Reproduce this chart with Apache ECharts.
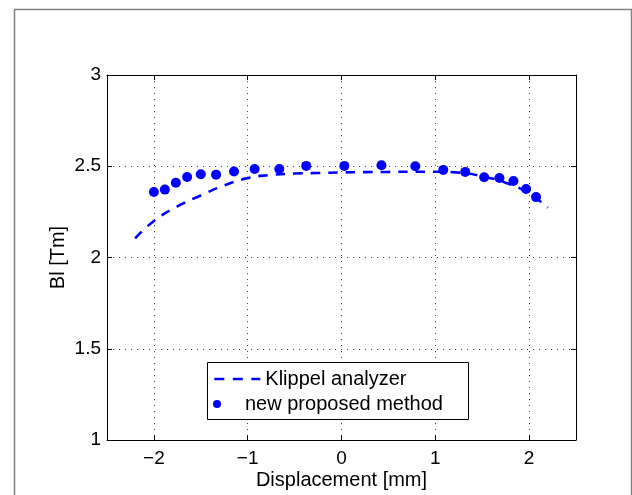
<!DOCTYPE html>
<html>
<head>
<meta charset="utf-8">
<script src="https://cdn.jsdelivr.net/npm/echarts@6/dist/echarts.min.js"></script>
<style>
html,body{margin:0;padding:0;background:#fff;}
#chart{width:632px;height:495px;}
</style>
</head>
<body>
<div id="chart"></div>
<script>
// Klippel analyzer curve (dashed)
var klippelX = [-2.2, -2.0, -1.75, -1.5, -1.25, -1.0, -0.75, -0.5, -0.25, 0, 0.25, 0.5, 0.75, 1.0, 1.25, 1.5, 1.75, 2.0, 2.2];
var klippelY = [2.105, 2.20, 2.28, 2.34, 2.395, 2.435, 2.452, 2.46, 2.463, 2.466, 2.468, 2.469, 2.47, 2.47, 2.465, 2.445, 2.41, 2.35, 2.273];
// New proposed method (dots)
var methodX = [-2.0, -1.883, -1.766, -1.646, -1.5, -1.337, -1.146, -0.926, -0.663, -0.376, 0.03, 0.426, 0.787, 1.085, 1.319, 1.521, 1.684, 1.833, 1.968, 2.074];
var methodY = [2.359, 2.372, 2.41, 2.441, 2.456, 2.454, 2.471, 2.485, 2.485, 2.502, 2.502, 2.505, 2.5, 2.48, 2.469, 2.44, 2.436, 2.419, 2.375, 2.331];
var seriesNames = ['Klippel analyzer', 'new proposed method'];
var xName = 'Displacement [mm]';
var yName = 'Bl [Tm]';

var FONT = 'Liberation Sans, Arial, Helvetica, sans-serif';
var BLUE = '#0000ff';

function pairs(xs, ys) { return xs.map(function (x, i) { return [x, ys[i]]; }); }

var chart = echarts.init(document.getElementById('chart'), null, {renderer: 'canvas'});
var gridLine = {show: true, lineStyle: {color: '#444', width: 1, type: [1, 5]}};
var legendText = {fontFamily: FONT, fontSize: 20, color: '#000', lineHeight: 20};
var option = {
  animation: false,
  backgroundColor: '#fff',
  graphic: [{
    type: 'rect', left: 12, top: 7, z: -10, silent: true,
    shape: {width: 617, height: 500},
    style: {fill: 'none', stroke: '#808080', lineWidth: 1.5}
  }, {
    type: 'rect', left: 207, top: 362, z: 3, silent: true,
    shape: {width: 261, height: 57},
    style: {fill: '#fff', stroke: '#000', lineWidth: 1}
  }],
  grid: {left: 107, right: 56, top: 75, bottom: 55, containLabel: false},
  legend: [{
    orient: 'vertical', left: 213, top: 369, padding: 0,
    itemWidth: 46, itemHeight: 3, itemGap: 0,
    textStyle: legendText,
    lineStyle: {color: BLUE, width: 2.6, type: [10, 8.5]},
    data: [{name: seriesNames[0], itemStyle: {opacity: 0}}]
  }, {
    orient: 'vertical', left: 213, top: 394, padding: 0,
    itemWidth: 46, itemHeight: 8, itemGap: 0,
    textStyle: legendText,
    data: [{name: seriesNames[1], icon: 'circle'}]
  }],
  xAxis: [{
    type: 'value', min: -2.5, max: 2.5, splitNumber: 5,
    name: xName, nameLocation: 'middle', nameGap: 30, nameMoveOverlap: false,
    nameTextStyle: {fontFamily: FONT, fontSize: 20, color: '#000'},
    axisLine: {show: true, onZero: false, lineStyle: {color: '#000', width: 1}},
    axisTick: {show: true, inside: true, length: 5, lineStyle: {color: '#000'}},
    axisLabel: {fontFamily: FONT, fontSize: 19, color: '#000', margin: 9, showMinLabel: false, showMaxLabel: false,
      formatter: function (v) { return String(v).replace('-', '\u2212'); }},
    splitLine: gridLine
  }, {
    type: 'value', min: -2.5, max: 2.5, splitNumber: 5, position: 'top',
    axisLine: {show: true, onZero: false, lineStyle: {color: '#000', width: 1}},
    axisTick: {show: true, inside: true, length: 5, lineStyle: {color: '#000'}},
    axisLabel: {show: false}, splitLine: {show: false}
  }],
  yAxis: [{
    type: 'value', min: 1, max: 3, interval: 0.5,
    name: yName, nameLocation: 'middle', nameGap: 39, nameRotate: 90, nameMoveOverlap: false,
    nameTextStyle: {fontFamily: FONT, fontSize: 20, color: '#000'},
    axisLine: {show: true, onZero: false, lineStyle: {color: '#000', width: 1}},
    axisTick: {show: true, inside: true, length: 5, lineStyle: {color: '#000'}},
    axisLabel: {fontFamily: FONT, fontSize: 19, color: '#000', margin: 6},
    splitLine: gridLine
  }, {
    type: 'value', min: 1, max: 3, interval: 0.5, position: 'right',
    axisLine: {show: true, onZero: false, lineStyle: {color: '#000', width: 1}},
    axisTick: {show: true, inside: true, length: 5, lineStyle: {color: '#000'}},
    axisLabel: {show: false}, splitLine: {show: false}
  }],
  series: [{
    name: seriesNames[0], type: 'line', smooth: true, showSymbol: false, symbol: 'none',
    xAxisIndex: 0, yAxisIndex: 0,
    data: pairs(klippelX, klippelY),
    itemStyle: {color: BLUE},
    lineStyle: {color: BLUE, width: 2.6, type: [9.5, 8]}
  }, {
    name: seriesNames[1], type: 'scatter', symbol: 'circle', symbolSize: 10,
    xAxisIndex: 0, yAxisIndex: 0,
    data: pairs(methodX, methodY),
    itemStyle: {color: BLUE, opacity: 1}
  }]
};
chart.setOption(option);
</script>
</body>
</html>
